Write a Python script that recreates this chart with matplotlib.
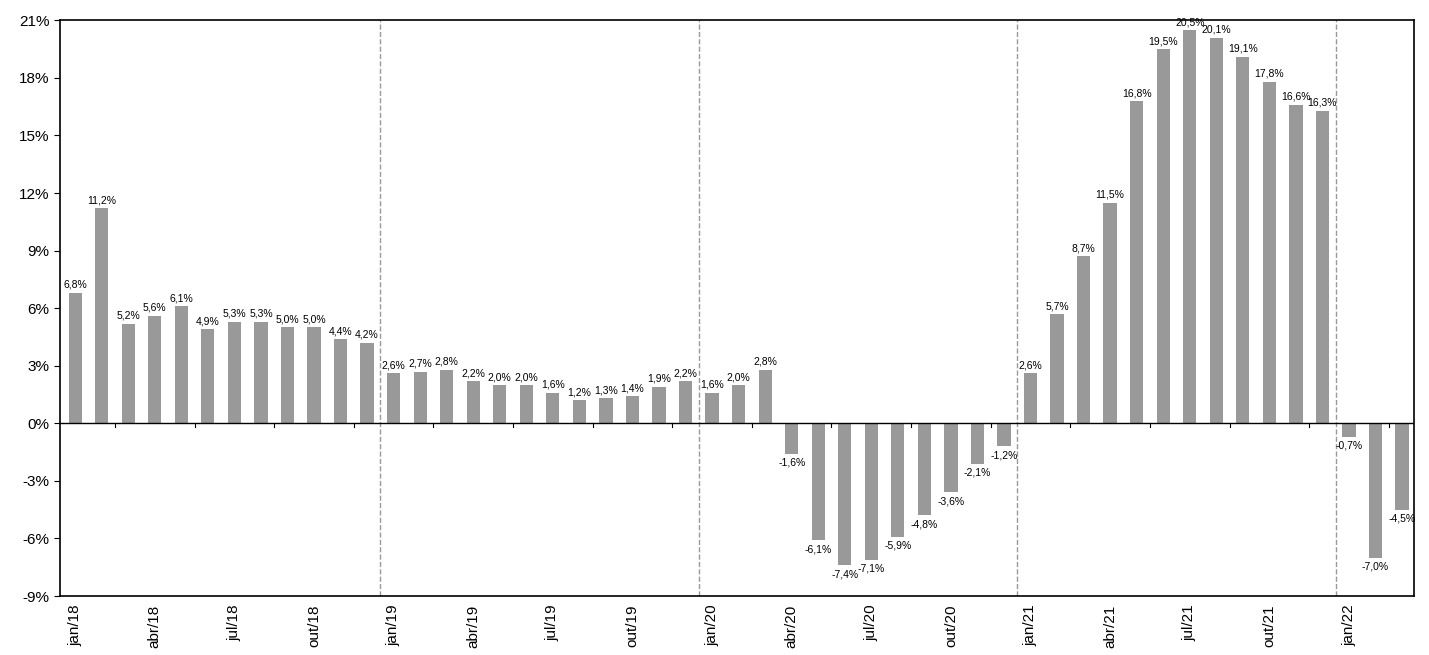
import matplotlib
matplotlib.use("Agg")
import matplotlib.pyplot as plt
import numpy as np

months = ["jan", "fev", "mar", "abr", "mai", "jun", "jul", "ago", "set", "out", "nov", "dez"]
years = ["18", "19", "20", "21", "22"]
labels = [f"{m}/{y}" for y in years for m in months][:51]

values = [6.8, 11.2, 5.2, 5.6, 6.1, 4.9, 5.3, 5.3, 5.0, 5.0, 4.4, 4.2,
          2.6, 2.7, 2.8, 2.2, 2.0, 2.0, 1.6, 1.2, 1.3, 1.4, 1.9, 2.2,
          1.6, 2.0, 2.8, -1.6, -6.1, -7.4, -7.1, -5.9, -4.8, -3.6, -2.1, -1.2,
          2.6, 5.7, 8.7, 11.5, 16.8, 19.5, 20.5, 20.1, 19.1, 17.8, 16.6, 16.3,
          -0.7, -7.0, -4.5]

plt.rcParams["font.family"] = ["Liberation Sans", "DejaVu Sans"]
fig = plt.figure(figsize=(14.29, 6.55), dpi=100)
ax = fig.add_axes([0.042, 0.09, 0.9475, 0.879])

x = np.arange(len(values))
ax.bar(x, values, width=0.5, color="#999999", zorder=2)
for xi, v in zip(x, values):
    s = f"{v:.1f}%".replace(".", ",")
    if v >= 0:
        ax.text(xi, v + 0.15, s, ha="center", va="bottom", fontsize=7.5)
    else:
        ax.text(xi, v - 0.2, s, ha="center", va="top", fontsize=7.5)

for b in [11.5, 23.5, 35.5, 47.5]:
    ax.axvline(b, color="#999999", ls="--", lw=1, zorder=1)
ax.axhline(0, color="black", lw=1, zorder=3)
for t in range(0, 51, 3):
    ax.plot([t + 1.5, t + 1.5], [0, -0.2], color="black", lw=0.8, zorder=3)

ax.set_xlim(-0.57, 50.45)
ax.set_ylim(-9, 21)
ax.set_yticks(range(-9, 22, 3))
ax.set_yticklabels([f"{t}%" for t in range(-9, 22, 3)], fontsize=11)
ax.set_xticks(x[::3])
ax.set_xticklabels(labels[::3], rotation=90, fontsize=11)
ax.tick_params(axis="x", length=0, pad=6)
ax.tick_params(axis="y", length=4)
for sp in ax.spines.values():
    sp.set_linewidth(1.2)

fig.savefig("out.png", dpi=100)
